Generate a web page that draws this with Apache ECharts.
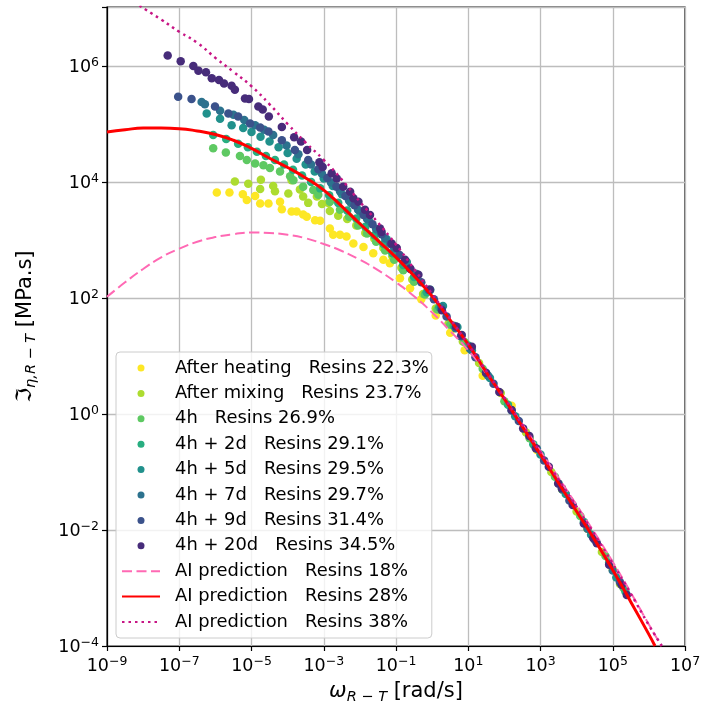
<!DOCTYPE html>
<html>
<head>
<meta charset="utf-8">
<script src="https://cdn.jsdelivr.net/npm/echarts@6.0.0/dist/echarts.min.js"></script>
<style>
  html, body { margin: 0; padding: 0; background: #fff; }
  #chart { width: 726px; height: 711px; }
</style>
</head>
<body>
<div id="chart"></div>
<script>
// values are log10 exponents [log10(omega), log10(value)]
const afterHeating = [[-5.96,3.82],[-5.61,3.82],[-5.24,3.79],[-5.13,3.69],[-4.90,3.76],[-4.76,3.63],[-4.53,3.63],[-4.21,3.66],[-4.16,3.53],[-3.89,3.49],[-3.75,3.49],[-3.57,3.44],[-3.47,3.40],[-3.24,3.34],[-3.10,3.33],[-2.83,3.20],[-2.74,3.09],[-2.55,3.09],[-2.37,3.06],[-2.18,2.94],[-1.90,2.88],[-1.63,2.77],[-1.35,2.66],[-1.17,2.60],[-0.89,2.34],[-0.61,2.17],[-0.30,1.98],[0.10,1.70],[0.50,1.40],[0.90,1.10],[1.40,0.66],[2.20,0.14],[2.90,-0.62],[3.60,-1.30],[4.30,-1.98],[5.00,-2.68]];
const afterMixing = [[-5.46,4.01],[-5.09,3.97],[-4.74,4.04],[-4.76,3.88],[-4.40,3.93],[-4.35,3.84],[-3.98,3.80],[-3.89,4.03],[-3.66,3.87],[-3.57,3.75],[-3.43,3.64],[-3.19,3.75],[-3.05,3.62],[-2.87,3.64],[-2.83,3.50],[-2.60,3.42],[-2.35,3.36],[-2.10,3.25],[-1.85,3.12],[-1.60,3.02],[-1.35,2.86],[-1.10,2.72],[-0.85,2.52],[-0.55,2.32],[-0.25,2.07],[0.10,1.82],[0.45,1.55],[0.85,1.25],[1.30,0.88],[1.90,0.36],[2.60,-0.32],[3.30,-1.00],[4.00,-1.68],[4.70,-2.38],[5.20,-2.93]];
const h4 = [[-6.06,4.58],[-5.71,4.51],[-5.32,4.45],[-5.13,4.38],[-4.90,4.32],[-4.67,4.29],[-4.49,4.24],[-4.21,4.18],[-3.93,4.10],[-3.84,4.03],[-3.57,3.92],[-3.29,3.86],[-3.15,3.78],[-2.83,3.66],[-2.55,3.52],[-2.30,3.40],[-2.05,3.25],[-1.80,3.11],[-1.55,2.97],[-1.30,2.82],[-1.05,2.66],[-0.80,2.48],[-0.50,2.28],[-0.20,2.06],[0.15,1.80],[0.50,1.54],[0.90,1.24],[1.40,0.78],[2.00,0.22],[2.70,-0.42],[3.40,-1.08],[4.10,-1.76],[4.80,-2.45],[5.30,-3.00]];
const h4d2 = [[-6.06,4.81],[-5.70,4.74],[-5.37,4.66],[-5.10,4.60],[-4.85,4.52],[-4.60,4.45],[-4.35,4.38],[-4.10,4.30],[-3.85,4.21],[-3.60,4.11],[-3.35,4.00],[-3.10,3.89],[-2.85,3.77],[-2.60,3.64],[-2.35,3.51],[-2.10,3.37],[-1.85,3.23],[-1.60,3.08],[-1.35,2.93],[-1.10,2.77],[-0.80,2.57],[-0.50,2.36],[-0.15,2.10],[0.20,1.84],[0.60,1.52],[1.00,1.18],[1.50,0.70],[2.10,0.16],[2.80,-0.52],[3.50,-1.20],[4.20,-1.86],[4.90,-2.56],[5.35,-3.06]];
const h4d5 = [[-6.24,5.18],[-5.87,5.09],[-5.55,4.98],[-5.23,4.93],[-5.00,4.86],[-4.75,4.78],[-4.50,4.70],[-4.25,4.60],[-4.00,4.50],[-3.75,4.40],[-3.50,4.30],[-3.25,4.18],[-3.00,4.06],[-2.75,3.93],[-2.50,3.79],[-2.25,3.64],[-2.00,3.49],[-1.75,3.33],[-1.50,3.17],[-1.25,3.01],[-1.00,2.84],[-0.70,2.62],[-0.40,2.40],[-0.05,2.14],[0.30,1.86],[0.70,1.50],[1.10,1.10],[1.60,0.62],[2.30,-0.04],[3.00,-0.70],[3.70,-1.38],[4.40,-2.08],[5.10,-2.82]];
const h4d7 = [[-6.38,5.38],[-6.29,5.34],[-5.87,5.23],[-5.50,5.16],[-5.20,5.07],[-4.90,4.98],[-4.65,4.90],[-4.40,4.81],[-4.03,4.63],[-3.70,4.48],[-3.35,4.30],[-3.05,4.14],[-2.80,3.99],[-2.55,3.84],[-2.30,3.68],[-2.05,3.52],[-1.80,3.36],[-1.55,3.19],[-1.30,3.03],[-1.05,2.86],[-0.75,2.64],[-0.45,2.42],[-0.10,2.14],[0.25,1.84],[0.65,1.48],[1.05,1.12],[1.55,0.66],[2.20,0.06],[2.90,-0.60],[3.60,-1.30],[4.30,-1.98],[5.00,-2.70]];
const h4d9 = [[-7.03,5.47],[-6.66,5.43],[-6.01,5.30],[-5.64,5.18],[-5.37,5.13],[-5.04,5.01],[-4.76,4.94],[-4.53,4.87],[-4.16,4.72],[-3.80,4.55],[-3.43,4.38],[-3.15,4.22],[-2.90,4.07],[-2.65,3.92],[-2.40,3.76],[-2.15,3.60],[-1.90,3.43],[-1.65,3.27],[-1.40,3.10],[-1.15,2.93],[-0.90,2.74],[-0.60,2.50],[-0.30,2.27],[0.05,1.98],[0.40,1.68],[0.80,1.34],[1.20,0.98],[1.70,0.52],[2.40,-0.12],[3.10,-0.80],[3.80,-1.49],[4.50,-2.17],[5.20,-2.90]];
const h4d20 = [[-7.32,6.18],[-6.96,6.08],[-6.61,6.00],[-6.47,5.92],[-6.26,5.89],[-6.10,5.79],[-5.90,5.76],[-5.76,5.70],[-5.55,5.66],[-5.46,5.59],[-5.18,5.44],[-5.07,5.43],[-4.81,5.30],[-4.69,5.25],[-4.52,5.13],[-4.16,4.95],[-3.82,4.77],[-3.63,4.70],[-3.46,4.55],[-3.12,4.34],[-3.03,4.26],[-2.78,4.15],[-2.64,4.06],[-2.46,3.92],[-2.27,3.83],[-2.18,3.72],[-2.04,3.66],[-1.86,3.52],[-1.72,3.43],[-1.44,3.20],[-1.40,3.14],[-1.12,2.94],[-0.98,2.86],[-0.75,2.66],[-0.61,2.51],[-0.38,2.40],[-0.06,2.14],[0.27,1.79],[0.66,1.51],[0.82,1.36],[1.10,1.16],[1.49,0.71],[1.86,0.38],[2.20,0.07],[2.52,-0.25],[2.69,-0.38],[2.87,-0.59],[3.23,-0.91],[3.49,-1.20],[3.59,-1.28],[3.89,-1.57],[4.20,-1.89],[4.46,-2.14],[4.56,-2.23],[4.90,-2.60],[5.25,-2.95],[5.39,-3.12]];

const predict18 = [[-9,2.02],[-8.5,2.27],[-8,2.50],[-7.5,2.70],[-7,2.85],[-6.5,2.97],[-6,3.05],[-5.5,3.10],[-5,3.13],[-4.5,3.12],[-4,3.09],[-3.5,3.03],[-3,2.93],[-2.5,2.81],[-2,2.66],[-1.5,2.48],[-1,2.27],[-0.5,2.03],[0,1.75],[0.5,1.43],[1,1.10],[1.5,0.70],[2,0.27],[2.5,-0.18],[3,-0.64],[3.5,-1.10],[4,-1.57],[4.5,-2.05],[5,-2.55],[5.5,-3.08],[6,-3.63],[6.35,-4.0]];
const predict28 = [[-9,4.86],[-8.5,4.90],[-8,4.93],[-7.5,4.93],[-7,4.92],[-6.5,4.88],[-6,4.82],[-5.5,4.72],[-5,4.58],[-4.5,4.41],[-4,4.25],[-3.5,4.07],[-3,3.86],[-2.5,3.58],[-2,3.28],[-1.5,2.99],[-1,2.70],[-0.5,2.38],[0,2.03],[0.5,1.62],[1,1.20],[1.5,0.72],[2,0.26],[2.5,-0.22],[3,-0.70],[3.5,-1.19],[4,-1.68],[4.5,-2.17],[5,-2.69],[5.5,-3.24],[6,-3.80],[6.17,-4.0]];
const predict38 = [[-8.1,7.04],[-7.5,6.80],[-7,6.59],[-6.5,6.40],[-6,6.14],[-5.5,5.90],[-5,5.65],[-4.5,5.34],[-4,5.00],[-3.5,4.68],[-3,4.38],[-2.5,4.04],[-2,3.66],[-1.5,3.30],[-1,2.92],[-0.5,2.50],[0,2.07],[0.5,1.64],[1,1.20],[1.5,0.74],[2,0.28],[2.5,-0.19],[3,-0.66],[3.5,-1.13],[4,-1.60],[4.5,-2.08],[5,-2.58],[5.5,-3.10],[6,-3.64],[6.36,-4.0]];

const scatterNames = [
  'After heating   Resins 22.3%',
  'After mixing   Resins 23.7%',
  '4h   Resins 26.9%',
  '4h + 2d   Resins 29.1%',
  '4h + 5d   Resins 29.5%',
  '4h + 7d   Resins 29.7%',
  '4h + 9d   Resins 31.4%',
  '4h + 20d   Resins 34.5%'
];
const scatterColors = ['#fde725', '#addc30', '#5ec962', '#28ae80', '#21918c', '#2c728e', '#3b528b', '#472c7a'];
const scatterData = [afterHeating, afterMixing, h4, h4d2, h4d5, h4d7, h4d9, h4d20];

const lineNames = ['AI prediction   Resins 18%', 'AI prediction   Resins 28%', 'AI prediction   Resins 38%'];
const lineData = [predict18, predict28, predict38];

const xMin = -9, xMax = 7;
const yMin = -4, yMax = 7.017;
const FONT = 'DejaVu Sans';

const chart = echarts.init(document.getElementById('chart'), null, { renderer: 'canvas' });

function powLabel(v) {
  if (!Number.isInteger(v)) return '';
  const e = v < 0 ? '\u2212' + Math.abs(v) : String(v);
  return '{b|10}{s|' + e + '}';
}
const tickRich = {
  b: { fontFamily: FONT, fontSize: 17.5, color: '#000', verticalAlign: 'bottom' },
  s: { fontFamily: FONT, fontSize: 12.5, color: '#000', verticalAlign: 'bottom', padding: [0, 0, 7, 0] }
};

const lineStyles = [
  { color: '#ff69b4', width: 2, type: [10, 4.5] },
  { color: '#ff0000', width: 3, type: 'solid' },
  { color: '#c71585', width: 2.5, type: [2.5, 4] }
];

const series = [];
scatterData.forEach((d, i) => {
  series.push({
    name: scatterNames[i],
    type: 'scatter',
    data: d,
    symbolSize: 8.5,
    itemStyle: { color: scatterColors[i], opacity: 1 },
    emphasis: { disabled: true }
  });
});
lineData.forEach((d, i) => {
  series.push({
    name: lineNames[i],
    type: 'line',
    data: d,
    smooth: true,
    showSymbol: false,
    symbol: 'none',
    lineStyle: lineStyles[i],
    itemStyle: { color: lineStyles[i].color },
    emphasis: { disabled: true },
    z: 3
  });
});

const nameRich = {
  w: { fontFamily: FONT, fontSize: 21, color: '#000', verticalAlign: 'top' },
  wi: { fontFamily: FONT, fontStyle: 'italic', fontSize: 21, color: '#000', verticalAlign: 'top' },
  sub: { fontFamily: FONT, fontStyle: 'italic', fontSize: 14.5, color: '#000', verticalAlign: 'top', padding: [9, 0, 0, 0] },
  n: { fontFamily: FONT, fontSize: 21, color: '#000', verticalAlign: 'top' }
};

chart.setOption({
  animation: false,
  backgroundColor: '#fff',
  grid: {
    left: 107, right: 41, top: 7, bottom: 65,
    show: true, borderColor: '#000', borderWidth: 1.2, backgroundColor: 'transparent'
  },
  xAxis: {
    type: 'value', min: xMin, max: xMax, interval: 2,
    name: '{wi|\u03c9}{sub|R \u2212 T}{n| [rad/s]}',
    nameLocation: 'middle', nameGap: 35,
    nameTextStyle: { rich: nameRich },
    axisLine: { onZero: false, lineStyle: { color: '#000', width: 1.2 } },
    axisTick: { show: true, length: 5, inside: false, lineStyle: { color: '#000', width: 1.2 } },
    axisLabel: { margin: 9, formatter: powLabel, rich: tickRich },
    splitLine: { show: true, lineStyle: { color: '#bdbdbd', width: 1.3 } }
  },
  yAxis: {
    type: 'value', min: yMin, max: yMax, interval: 2,
    name: '{w|\u2111}{sub|\u03b7,R \u2212 T}{n| [MPa.s]}',
    nameLocation: 'middle', nameGap: 68, nameRotate: 90,
    nameTextStyle: { rich: nameRich },
    axisLine: { show: true, onZero: false, lineStyle: { color: '#000', width: 1.2 } },
    axisTick: { show: true, length: 5, inside: false, lineStyle: { color: '#000', width: 1.2 } },
    axisLabel: { margin: 8, formatter: powLabel, rich: tickRich },
    splitLine: { show: true, lineStyle: { color: '#bdbdbd', width: 1.3 } }
  },
  legend: {
    orient: 'vertical',
    left: 116, top: 352,
    itemWidth: 38, itemHeight: 7, itemGap: 7.4,
    padding: [7, 3, 7, 5],
    backgroundColor: 'rgba(255,255,255,0.8)',
    borderColor: '#cccccc', borderWidth: 1, borderRadius: 4,
    textStyle: { fontFamily: FONT, fontSize: 17.9, color: '#000', lineHeight: 18, padding: [0, 0, 0, 10] },
    data: scatterNames.map(n => ({ name: n, icon: 'circle' }))
      .concat(lineNames.map(n => ({ name: n, itemStyle: { opacity: 0 } }))),
    selectedMode: false
  },
  series: series
});
</script>
</body>
</html>
